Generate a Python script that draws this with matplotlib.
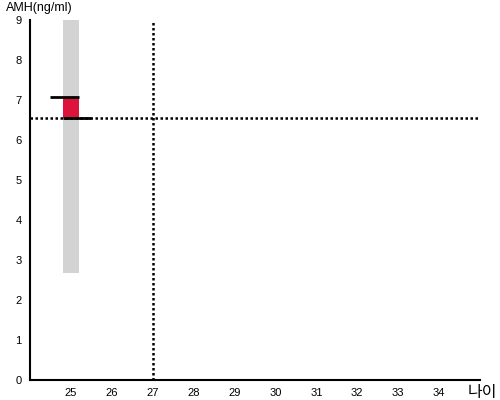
import matplotlib.pyplot as plt

# data
age = 25
amh_range = [2.67, 9.0]      # grey band (low, high)
amh_value = 7.07             # upper black mark
amh_ref = 6.55               # reference line / lower black mark
age_ref = 27
x_ticks = [25, 26, 27, 28, 29, 30, 31, 32, 33, 34]
y_ticks = [0, 1, 2, 3, 4, 5, 6, 7, 8, 9]

plt.rcParams['font.family'] = ['Liberation Sans', 'Noto Sans CJK KR', 'DejaVu Sans']

fig = plt.figure(figsize=(5, 4), dpi=100)
ax = fig.add_axes([0.06, 0.05, 0.90, 0.90])

w = 0.4
ax.bar(age, amh_range[1] - amh_range[0], bottom=amh_range[0], width=w,
       color='#d3d3d3', zorder=1)
ax.bar(age, amh_value - amh_ref, bottom=amh_ref, width=w,
       color='#dc143c', zorder=2)
ax.hlines(amh_value, age - w / 2 - 0.3, age + w / 2, color='black', lw=2, zorder=3)
ax.hlines(amh_ref, age - w / 2, age + w / 2 + 0.3, color='black', lw=2, zorder=3)

ax.axhline(amh_ref, color='black', lw=1.8, ls=(0, (1, 1)), zorder=2.5)
ax.axvline(age_ref, color='black', lw=1.8, ls=(0, (1, 1)), zorder=2.5)

ax.set_xlim(24, 35)
ax.set_ylim(0, 9)
ax.set_xticks(x_ticks)
ax.set_yticks(y_ticks)
ax.tick_params(length=0, labelsize=8, pad=6)
ax.spines['top'].set_visible(False)
ax.spines['right'].set_visible(False)
ax.spines['left'].set_linewidth(1.5)
ax.spines['bottom'].set_linewidth(1.5)

fig.text(0.012, 0.965, 'AMH(ng/ml)', fontsize=9, ha='left', va='bottom')
fig.text(0.995, 0.0, '나이', fontsize=11.5, ha='right', va='bottom')

fig.savefig('out.png')
